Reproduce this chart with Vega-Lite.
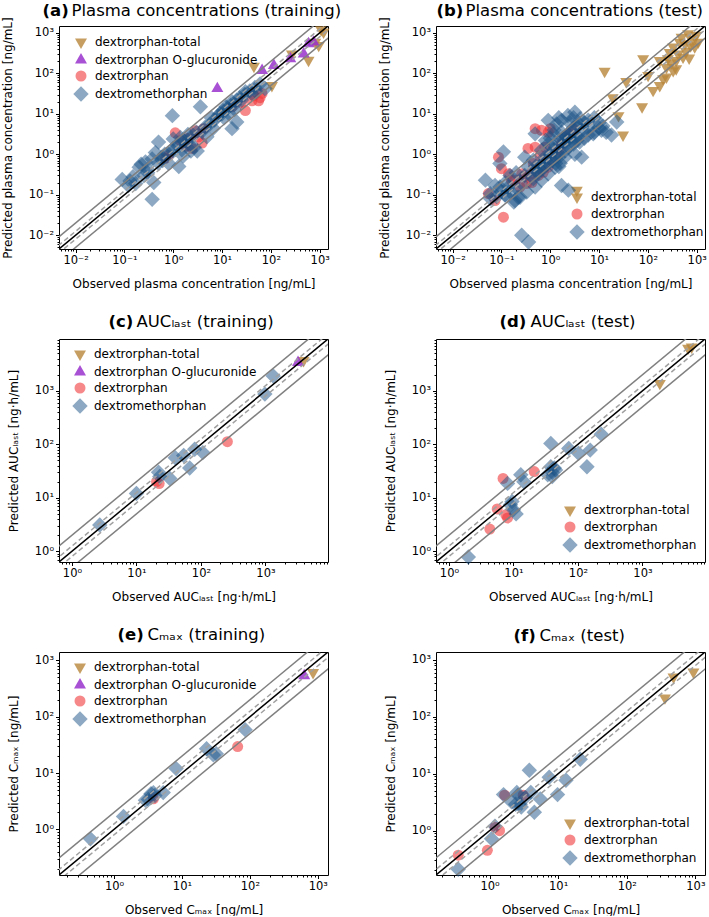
{
  "$schema": "https://vega.github.io/schema/vega-lite/v6.json",
  "padding": {"left": 0, "top": 2, "right": 0, "bottom": 0},
  "config": {
    "font": "DejaVu Sans",
    "view": {"stroke": "black", "strokeWidth": 1},
    "axis": {"labelFontSize": 11.5, "labelColor": "black", "titleFontSize": 12, "titleFontWeight": "normal", "titleColor": "black", "tickColor": "black", "grid": false, "domain": false, "labelOverlap": false, "labelFlush": false, "labelPadding": 2},
    "axisX": {"titlePadding": 12},
    "axisY": {"titlePadding": 14},
    "legend": {"labelFontSize": 12, "labelColor": "black", "labelFont": "DejaVu Sans", "rowPadding": 4, "labelOffset": 8, "symbolStrokeWidth": 0, "padding": 0, "labelLimit": 400, "symbolSize": 121}
  },
  "datasets": {
    "ref": [
      {"ref": "id", "x": 0.0001, "y": 0.0001}, {"ref": "id", "x": 100000, "y": 100000},
      {"ref": "up2", "x": 0.0001, "y": 0.0002}, {"ref": "up2", "x": 100000, "y": 200000},
      {"ref": "lo2", "x": 0.0001, "y": 0.00005}, {"ref": "lo2", "x": 100000, "y": 50000},
      {"ref": "up125", "x": 0.0001, "y": 0.000125}, {"ref": "up125", "x": 100000, "y": 125000},
      {"ref": "lo125", "x": 0.0001, "y": 0.00008}, {"ref": "lo125", "x": 100000, "y": 80000}
    ],
    "a": [
      {"obs": 1070, "pred": 1200, "analyte": "dextrorphan-total"},
      {"obs": 1200, "pred": 1050, "analyte": "dextrorphan-total"},
      {"obs": 810, "pred": 590, "analyte": "dextrorphan-total"},
      {"obs": 955, "pred": 490, "analyte": "dextrorphan-total"},
      {"obs": 590, "pred": 210, "analyte": "dextrorphan-total"},
      {"obs": 270, "pred": 300, "analyte": "dextrorphan-total"},
      {"obs": 45, "pred": 150, "analyte": "dextrorphan-total"},
      {"obs": 105, "pred": 50, "analyte": "dextrorphan-total"},
      {"obs": 8, "pred": 42, "analyte": "dextrorphan O-glucuronide"},
      {"obs": 66, "pred": 118, "analyte": "dextrorphan O-glucuronide"},
      {"obs": 115, "pred": 157, "analyte": "dextrorphan O-glucuronide"},
      {"obs": 250, "pred": 230, "analyte": "dextrorphan O-glucuronide"},
      {"obs": 470, "pred": 300, "analyte": "dextrorphan O-glucuronide"},
      {"obs": 590, "pred": 540, "analyte": "dextrorphan O-glucuronide"},
      {"obs": 750, "pred": 590, "analyte": "dextrorphan O-glucuronide"},
      {"obs": 1.1, "pred": 3.4, "analyte": "dextrorphan"},
      {"obs": 2.45, "pred": 1.4, "analyte": "dextrorphan"},
      {"obs": 3.3, "pred": 2.7, "analyte": "dextrorphan"},
      {"obs": 4.2, "pred": 4.3, "analyte": "dextrorphan"},
      {"obs": 0.8, "pred": 0.93, "analyte": "dextrorphan"},
      {"obs": 0.7, "pred": 0.8, "analyte": "dextrorphan"},
      {"obs": 1.4, "pred": 2.2, "analyte": "dextrorphan"},
      {"obs": 2.0, "pred": 2.5, "analyte": "dextrorphan"},
      {"obs": 3.9, "pred": 1.9, "analyte": "dextrorphan"},
      {"obs": 30, "pred": 12, "analyte": "dextrorphan"},
      {"obs": 41, "pred": 21, "analyte": "dextrorphan"},
      {"obs": 66, "pred": 32, "analyte": "dextrorphan"},
      {"obs": 56, "pred": 21, "analyte": "dextrorphan"},
      {"obs": 16, "pred": 15, "analyte": "dextrorphan"},
      {"obs": 25, "pred": 19, "analyte": "dextrorphan"},
      {"obs": 45, "pred": 28, "analyte": "dextrorphan"},
      {"obs": 60, "pred": 25, "analyte": "dextrorphan"},
      {"obs": 2.8, "pred": 3.8, "analyte": "dextrorphan"},
      {"obs": 1.8, "pred": 1.6, "analyte": "dextrorphan"},
      {"obs": 0.09, "pred": 0.24, "analyte": "dextromethorphan"},
      {"obs": 0.13, "pred": 0.22, "analyte": "dextromethorphan"},
      {"obs": 0.17, "pred": 0.19, "analyte": "dextromethorphan"},
      {"obs": 0.2, "pred": 0.48, "analyte": "dextromethorphan"},
      {"obs": 0.22, "pred": 0.57, "analyte": "dextromethorphan"},
      {"obs": 0.27, "pred": 0.65, "analyte": "dextromethorphan"},
      {"obs": 0.37, "pred": 0.77, "analyte": "dextromethorphan"},
      {"obs": 0.3, "pred": 0.42, "analyte": "dextromethorphan"},
      {"obs": 0.4, "pred": 0.2, "analyte": "dextromethorphan"},
      {"obs": 0.37, "pred": 0.077, "analyte": "dextromethorphan"},
      {"obs": 0.5, "pred": 2.0, "analyte": "dextromethorphan"},
      {"obs": 0.43, "pred": 1.1, "analyte": "dextromethorphan"},
      {"obs": 0.59, "pred": 0.85, "analyte": "dextromethorphan"},
      {"obs": 0.67, "pred": 1.0, "analyte": "dextromethorphan"},
      {"obs": 0.96, "pred": 9.0, "analyte": "dextromethorphan"},
      {"obs": 1.3, "pred": 0.5, "analyte": "dextromethorphan"},
      {"obs": 1.0, "pred": 1.4, "analyte": "dextromethorphan"},
      {"obs": 1.2, "pred": 1.7, "analyte": "dextromethorphan"},
      {"obs": 1.5, "pred": 1.3, "analyte": "dextromethorphan"},
      {"obs": 1.7, "pred": 2.1, "analyte": "dextromethorphan"},
      {"obs": 2.1, "pred": 1.8, "analyte": "dextromethorphan"},
      {"obs": 2.7, "pred": 1.5, "analyte": "dextromethorphan"},
      {"obs": 3.1, "pred": 1.2, "analyte": "dextromethorphan"},
      {"obs": 3.6, "pred": 15, "analyte": "dextromethorphan"},
      {"obs": 3.9, "pred": 3.7, "analyte": "dextromethorphan"},
      {"obs": 4.5, "pred": 4.7, "analyte": "dextromethorphan"},
      {"obs": 5.7, "pred": 5.7, "analyte": "dextromethorphan"},
      {"obs": 7, "pred": 7, "analyte": "dextromethorphan"},
      {"obs": 8.3, "pred": 9, "analyte": "dextromethorphan"},
      {"obs": 10.5, "pred": 12, "analyte": "dextromethorphan"},
      {"obs": 13, "pred": 14, "analyte": "dextromethorphan"},
      {"obs": 16, "pred": 20, "analyte": "dextromethorphan"},
      {"obs": 16, "pred": 4.3, "analyte": "dextromethorphan"},
      {"obs": 20, "pred": 6.3, "analyte": "dextromethorphan"},
      {"obs": 18, "pred": 17, "analyte": "dextromethorphan"},
      {"obs": 23, "pred": 25, "analyte": "dextromethorphan"},
      {"obs": 29, "pred": 30, "analyte": "dextromethorphan"},
      {"obs": 37, "pred": 37, "analyte": "dextromethorphan"},
      {"obs": 47, "pred": 45, "analyte": "dextromethorphan"},
      {"obs": 60, "pred": 55, "analyte": "dextromethorphan"},
      {"obs": 76, "pred": 42, "analyte": "dextromethorphan"},
      {"obs": 11, "pred": 8, "analyte": "dextromethorphan"},
      {"obs": 9, "pred": 10, "analyte": "dextromethorphan"},
      {"obs": 6.6, "pred": 4.4, "analyte": "dextromethorphan"},
      {"obs": 4.9, "pred": 2.7, "analyte": "dextromethorphan"},
      {"obs": 2.0, "pred": 3.1, "analyte": "dextromethorphan"},
      {"obs": 1.4, "pred": 2.6, "analyte": "dextromethorphan"},
      {"obs": 1.0, "pred": 2.4, "analyte": "dextromethorphan"},
      {"obs": 0.25, "pred": 0.3, "analyte": "dextromethorphan"},
      {"obs": 0.3, "pred": 0.35, "analyte": "dextromethorphan"},
      {"obs": 0.5, "pred": 0.6, "analyte": "dextromethorphan"},
      {"obs": 0.6, "pred": 0.7, "analyte": "dextromethorphan"},
      {"obs": 0.8, "pred": 1.0, "analyte": "dextromethorphan"},
      {"obs": 1.0, "pred": 1.2, "analyte": "dextromethorphan"},
      {"obs": 1.5, "pred": 2.0, "analyte": "dextromethorphan"},
      {"obs": 2.0, "pred": 2.2, "analyte": "dextromethorphan"},
      {"obs": 2.5, "pred": 3.0, "analyte": "dextromethorphan"},
      {"obs": 3.0, "pred": 3.5, "analyte": "dextromethorphan"},
      {"obs": 10, "pred": 10, "analyte": "dextromethorphan"},
      {"obs": 12, "pred": 15, "analyte": "dextromethorphan"},
      {"obs": 15, "pred": 16, "analyte": "dextromethorphan"},
      {"obs": 20, "pred": 22, "analyte": "dextromethorphan"},
      {"obs": 25, "pred": 22, "analyte": "dextromethorphan"},
      {"obs": 30, "pred": 35, "analyte": "dextromethorphan"},
      {"obs": 0.12, "pred": 0.17, "analyte": "dextromethorphan"},
      {"obs": 0.15, "pred": 0.28, "analyte": "dextromethorphan"},
      {"obs": 0.8, "pred": 0.6, "analyte": "dextromethorphan"},
      {"obs": 1.6, "pred": 0.9, "analyte": "dextromethorphan"},
      {"obs": 2.3, "pred": 1.2, "analyte": "dextromethorphan"},
      {"obs": 6, "pred": 8, "analyte": "dextromethorphan"},
      {"obs": 14, "pred": 10, "analyte": "dextromethorphan"},
      {"obs": 18, "pred": 13, "analyte": "dextromethorphan"},
      {"obs": 50, "pred": 35, "analyte": "dextromethorphan"},
      {"obs": 40, "pred": 32, "analyte": "dextromethorphan"}
    ],
    "b": [
      {"obs": 13, "pred": 113, "analyte": "dextrorphan-total"},
      {"obs": 80, "pred": 230, "analyte": "dextrorphan-total"},
      {"obs": 36, "pred": 63, "analyte": "dextrorphan-total"},
      {"obs": 19, "pred": 25, "analyte": "dextrorphan-total"},
      {"obs": 31, "pred": 3.0, "analyte": "dextrorphan-total"},
      {"obs": 76, "pred": 15, "analyte": "dextrorphan-total"},
      {"obs": 25, "pred": 9, "analyte": "dextrorphan-total"},
      {"obs": 128, "pred": 38, "analyte": "dextrorphan-total"},
      {"obs": 240, "pred": 81, "analyte": "dextrorphan-total"},
      {"obs": 101, "pred": 89, "analyte": "dextrorphan-total"},
      {"obs": 175, "pred": 208, "analyte": "dextrorphan-total"},
      {"obs": 257, "pred": 229, "analyte": "dextrorphan-total"},
      {"obs": 380, "pred": 208, "analyte": "dextrorphan-total"},
      {"obs": 415, "pred": 302, "analyte": "dextrorphan-total"},
      {"obs": 525, "pred": 251, "analyte": "dextrorphan-total"},
      {"obs": 330, "pred": 446, "analyte": "dextrorphan-total"},
      {"obs": 575, "pred": 537, "analyte": "dextrorphan-total"},
      {"obs": 665, "pred": 955, "analyte": "dextrorphan-total"},
      {"obs": 980, "pred": 870, "analyte": "dextrorphan-total"},
      {"obs": 1070, "pred": 590, "analyte": "dextrorphan-total"},
      {"obs": 850, "pred": 710, "analyte": "dextrorphan-total"},
      {"obs": 450, "pred": 590, "analyte": "dextrorphan-total"},
      {"obs": 910, "pred": 450, "analyte": "dextrorphan-total"},
      {"obs": 240, "pred": 140, "analyte": "dextrorphan-total"},
      {"obs": 330, "pred": 117, "analyte": "dextrorphan-total"},
      {"obs": 205, "pred": 74, "analyte": "dextrorphan-total"},
      {"obs": 175, "pred": 50, "analyte": "dextrorphan-total"},
      {"obs": 280, "pred": 330, "analyte": "dextrorphan-total"},
      {"obs": 490, "pred": 780, "analyte": "dextrorphan-total"},
      {"obs": 3.5, "pred": 0.13, "analyte": "dextrorphan-total"},
      {"obs": 600, "pred": 350, "analyte": "dextrorphan-total"},
      {"obs": 750, "pred": 480, "analyte": "dextrorphan-total"},
      {"obs": 700, "pred": 240, "analyte": "dextrorphan-total"},
      {"obs": 380, "pred": 130, "analyte": "dextrorphan-total"},
      {"obs": 300, "pred": 180, "analyte": "dextrorphan-total"},
      {"obs": 0.66, "pred": 3.9, "analyte": "dextrorphan"},
      {"obs": 1.0, "pred": 4.3, "analyte": "dextrorphan"},
      {"obs": 0.35, "pred": 1.4, "analyte": "dextrorphan"},
      {"obs": 0.49, "pred": 1.5, "analyte": "dextrorphan"},
      {"obs": 0.10, "pred": 0.44, "analyte": "dextrorphan"},
      {"obs": 0.054, "pred": 0.107, "analyte": "dextrorphan"},
      {"obs": 0.074, "pred": 0.072, "analyte": "dextrorphan"},
      {"obs": 0.11, "pred": 0.028, "analyte": "dextrorphan"},
      {"obs": 0.19, "pred": 0.23, "analyte": "dextrorphan"},
      {"obs": 0.26, "pred": 0.33, "analyte": "dextrorphan"},
      {"obs": 0.33, "pred": 0.19, "analyte": "dextrorphan"},
      {"obs": 0.42, "pred": 0.2, "analyte": "dextrorphan"},
      {"obs": 0.57, "pred": 0.3, "analyte": "dextrorphan"},
      {"obs": 0.91, "pred": 0.48, "analyte": "dextrorphan"},
      {"obs": 1.07, "pred": 0.7, "analyte": "dextrorphan"},
      {"obs": 1.35, "pred": 1.15, "analyte": "dextrorphan"},
      {"obs": 2.0, "pred": 2.7, "analyte": "dextrorphan"},
      {"obs": 2.5, "pred": 3.2, "analyte": "dextrorphan"},
      {"obs": 2.95, "pred": 4.3, "analyte": "dextrorphan"},
      {"obs": 1.7, "pred": 1.8, "analyte": "dextrorphan"},
      {"obs": 0.78, "pred": 1.5, "analyte": "dextrorphan"},
      {"obs": 0.62, "pred": 0.93, "analyte": "dextrorphan"},
      {"obs": 0.39, "pred": 0.33, "analyte": "dextrorphan"},
      {"obs": 0.45, "pred": 0.59, "analyte": "dextrorphan"},
      {"obs": 0.24, "pred": 0.155, "analyte": "dextrorphan"},
      {"obs": 0.16, "pred": 0.23, "analyte": "dextrorphan"},
      {"obs": 0.14, "pred": 0.33, "analyte": "dextrorphan"},
      {"obs": 0.087, "pred": 0.85, "analyte": "dextrorphan"},
      {"obs": 0.49, "pred": 4.3, "analyte": "dextrorphan"},
      {"obs": 0.91, "pred": 3.5, "analyte": "dextrorphan"},
      {"obs": 0.3, "pred": 0.28, "analyte": "dextrorphan"},
      {"obs": 0.72, "pred": 0.36, "analyte": "dextrorphan"},
      {"obs": 1.5, "pred": 1.3, "analyte": "dextrorphan"},
      {"obs": 0.093, "pred": 0.59, "analyte": "dextromethorphan"},
      {"obs": 0.11, "pred": 1.15, "analyte": "dextromethorphan"},
      {"obs": 0.047, "pred": 0.23, "analyte": "dextromethorphan"},
      {"obs": 0.059, "pred": 0.107, "analyte": "dextromethorphan"},
      {"obs": 0.14, "pred": 0.155, "analyte": "dextromethorphan"},
      {"obs": 0.19, "pred": 0.072, "analyte": "dextromethorphan"},
      {"obs": 0.22, "pred": 0.087, "analyte": "dextromethorphan"},
      {"obs": 0.26, "pred": 0.01, "analyte": "dextromethorphan"},
      {"obs": 0.36, "pred": 0.0068, "analyte": "dextromethorphan"},
      {"obs": 0.30, "pred": 0.85, "analyte": "dextromethorphan"},
      {"obs": 0.45, "pred": 0.71, "analyte": "dextromethorphan"},
      {"obs": 0.52, "pred": 0.4, "analyte": "dextromethorphan"},
      {"obs": 0.78, "pred": 0.85, "analyte": "dextromethorphan"},
      {"obs": 0.91, "pred": 1.8, "analyte": "dextromethorphan"},
      {"obs": 1.15, "pred": 3.2, "analyte": "dextromethorphan"},
      {"obs": 1.35, "pred": 5.6, "analyte": "dextromethorphan"},
      {"obs": 1.7, "pred": 3.5, "analyte": "dextromethorphan"},
      {"obs": 1.86, "pred": 1.5, "analyte": "dextromethorphan"},
      {"obs": 2.3, "pred": 9.1, "analyte": "dextromethorphan"},
      {"obs": 3.2, "pred": 11, "analyte": "dextromethorphan"},
      {"obs": 4.1, "pred": 7.6, "analyte": "dextromethorphan"},
      {"obs": 4.4, "pred": 3.9, "analyte": "dextromethorphan"},
      {"obs": 6.0, "pred": 4.7, "analyte": "dextromethorphan"},
      {"obs": 7.6, "pred": 3.2, "analyte": "dextromethorphan"},
      {"obs": 11.2, "pred": 3.9, "analyte": "dextromethorphan"},
      {"obs": 14, "pred": 3.5, "analyte": "dextromethorphan"},
      {"obs": 18, "pred": 3.0, "analyte": "dextromethorphan"},
      {"obs": 23, "pred": 6.3, "analyte": "dextromethorphan"},
      {"obs": 4.4, "pred": 0.85, "analyte": "dextromethorphan"},
      {"obs": 3.2, "pred": 1.0, "analyte": "dextromethorphan"},
      {"obs": 2.35, "pred": 0.13, "analyte": "dextromethorphan"},
      {"obs": 1.7, "pred": 0.17, "analyte": "dextromethorphan"},
      {"obs": 1.26, "pred": 0.48, "analyte": "dextromethorphan"},
      {"obs": 0.91, "pred": 0.33, "analyte": "dextromethorphan"},
      {"obs": 0.66, "pred": 0.23, "analyte": "dextromethorphan"},
      {"obs": 0.49, "pred": 0.155, "analyte": "dextromethorphan"},
      {"obs": 0.33, "pred": 0.117, "analyte": "dextromethorphan"},
      {"obs": 0.24, "pred": 0.087, "analyte": "dextromethorphan"},
      {"obs": 0.18, "pred": 0.066, "analyte": "dextromethorphan"},
      {"obs": 0.118, "pred": 0.098, "analyte": "dextromethorphan"},
      {"obs": 0.093, "pred": 0.155, "analyte": "dextromethorphan"},
      {"obs": 0.074, "pred": 0.17, "analyte": "dextromethorphan"},
      {"obs": 0.91, "pred": 6.9, "analyte": "dextromethorphan"},
      {"obs": 1.7, "pred": 6.9, "analyte": "dextromethorphan"},
      {"obs": 2.3, "pred": 3.2, "analyte": "dextromethorphan"},
      {"obs": 1.26, "pred": 1.5, "analyte": "dextromethorphan"},
      {"obs": 0.66, "pred": 1.26, "analyte": "dextromethorphan"},
      {"obs": 1.7, "pred": 2.2, "analyte": "dextromethorphan"},
      {"obs": 2.75, "pred": 2.2, "analyte": "dextromethorphan"},
      {"obs": 3.7, "pred": 2.7, "analyte": "dextromethorphan"},
      {"obs": 1.5, "pred": 0.85, "analyte": "dextromethorphan"},
      {"obs": 1.3, "pred": 0.85, "analyte": "dextromethorphan"},
      {"obs": 2.0, "pred": 0.85, "analyte": "dextromethorphan"},
      {"obs": 1.6, "pred": 0.6, "analyte": "dextromethorphan"},
      {"obs": 0.49, "pred": 3.2, "analyte": "dextromethorphan"},
      {"obs": 0.5, "pred": 0.5, "analyte": "dextromethorphan"},
      {"obs": 0.6, "pred": 0.45, "analyte": "dextromethorphan"},
      {"obs": 0.7, "pred": 0.6, "analyte": "dextromethorphan"},
      {"obs": 0.8, "pred": 0.7, "analyte": "dextromethorphan"},
      {"obs": 1.0, "pred": 1.0, "analyte": "dextromethorphan"},
      {"obs": 1.2, "pred": 1.3, "analyte": "dextromethorphan"},
      {"obs": 1.4, "pred": 1.1, "analyte": "dextromethorphan"},
      {"obs": 1.6, "pred": 1.8, "analyte": "dextromethorphan"},
      {"obs": 1.8, "pred": 2.5, "analyte": "dextromethorphan"},
      {"obs": 2.0, "pred": 2.0, "analyte": "dextromethorphan"},
      {"obs": 2.2, "pred": 2.8, "analyte": "dextromethorphan"},
      {"obs": 2.5, "pred": 2.5, "analyte": "dextromethorphan"},
      {"obs": 2.8, "pred": 3.5, "analyte": "dextromethorphan"},
      {"obs": 3.0, "pred": 4.5, "analyte": "dextromethorphan"},
      {"obs": 3.5, "pred": 5.0, "analyte": "dextromethorphan"},
      {"obs": 4.0, "pred": 5.5, "analyte": "dextromethorphan"},
      {"obs": 5.0, "pred": 6.0, "analyte": "dextromethorphan"},
      {"obs": 6.0, "pred": 7.0, "analyte": "dextromethorphan"},
      {"obs": 8.0, "pred": 8.0, "analyte": "dextromethorphan"},
      {"obs": 10.0, "pred": 6.0, "analyte": "dextromethorphan"},
      {"obs": 12, "pred": 5, "analyte": "dextromethorphan"},
      {"obs": 0.3, "pred": 0.3, "analyte": "dextromethorphan"},
      {"obs": 0.25, "pred": 0.2, "analyte": "dextromethorphan"},
      {"obs": 0.2, "pred": 0.15, "analyte": "dextromethorphan"},
      {"obs": 0.15, "pred": 0.12, "analyte": "dextromethorphan"},
      {"obs": 0.12, "pred": 0.1, "analyte": "dextromethorphan"},
      {"obs": 0.1, "pred": 0.12, "analyte": "dextromethorphan"},
      {"obs": 0.08, "pred": 0.09, "analyte": "dextromethorphan"},
      {"obs": 0.06, "pred": 0.08, "analyte": "dextromethorphan"},
      {"obs": 0.35, "pred": 0.5, "analyte": "dextromethorphan"},
      {"obs": 0.4, "pred": 0.3, "analyte": "dextromethorphan"},
      {"obs": 0.45, "pred": 0.25, "analyte": "dextromethorphan"},
      {"obs": 0.55, "pred": 0.35, "analyte": "dextromethorphan"},
      {"obs": 0.65, "pred": 0.4, "analyte": "dextromethorphan"},
      {"obs": 0.75, "pred": 0.5, "analyte": "dextromethorphan"},
      {"obs": 0.9, "pred": 0.6, "analyte": "dextromethorphan"},
      {"obs": 1.1, "pred": 0.7, "analyte": "dextromethorphan"},
      {"obs": 1.3, "pred": 0.6, "analyte": "dextromethorphan"},
      {"obs": 1.5, "pred": 0.5, "analyte": "dextromethorphan"},
      {"obs": 2.0, "pred": 1.2, "analyte": "dextromethorphan"},
      {"obs": 2.4, "pred": 1.5, "analyte": "dextromethorphan"},
      {"obs": 3.0, "pred": 1.8, "analyte": "dextromethorphan"},
      {"obs": 3.5, "pred": 2.2, "analyte": "dextromethorphan"},
      {"obs": 4.0, "pred": 2.0, "analyte": "dextromethorphan"},
      {"obs": 5.0, "pred": 2.5, "analyte": "dextromethorphan"},
      {"obs": 6.0, "pred": 3.0, "analyte": "dextromethorphan"},
      {"obs": 8.0, "pred": 3.5, "analyte": "dextromethorphan"},
      {"obs": 10, "pred": 4.5, "analyte": "dextromethorphan"},
      {"obs": 1.0, "pred": 2.5, "analyte": "dextromethorphan"},
      {"obs": 1.2, "pred": 4.0, "analyte": "dextromethorphan"},
      {"obs": 0.8, "pred": 2.2, "analyte": "dextromethorphan"},
      {"obs": 1.5, "pred": 8.0, "analyte": "dextromethorphan"},
      {"obs": 2.5, "pred": 6.0, "analyte": "dextromethorphan"},
      {"obs": 3, "pred": 8, "analyte": "dextromethorphan"},
      {"obs": 0.15, "pred": 0.3, "analyte": "dextromethorphan"},
      {"obs": 0.2, "pred": 0.35, "analyte": "dextromethorphan"},
      {"obs": 0.12, "pred": 0.2, "analyte": "dextromethorphan"}
    ],
    "c": [
      {"obs": 3900, "pred": 3700, "analyte": "dextrorphan-total"},
      {"obs": 3200, "pred": 3400, "analyte": "dextrorphan O-glucuronide"},
      {"obs": 257, "pred": 112, "analyte": "dextrorphan"},
      {"obs": 20.5, "pred": 20, "analyte": "dextrorphan"},
      {"obs": 22.5, "pred": 18.5, "analyte": "dextrorphan"},
      {"obs": 2.7, "pred": 3.1, "analyte": "dextromethorphan"},
      {"obs": 10, "pred": 12, "analyte": "dextromethorphan"},
      {"obs": 22, "pred": 30, "analyte": "dextromethorphan"},
      {"obs": 23, "pred": 25, "analyte": "dextromethorphan"},
      {"obs": 33, "pred": 23, "analyte": "dextromethorphan"},
      {"obs": 40, "pred": 56, "analyte": "dextromethorphan"},
      {"obs": 54, "pred": 62, "analyte": "dextromethorphan"},
      {"obs": 67, "pred": 36, "analyte": "dextromethorphan"},
      {"obs": 80, "pred": 81, "analyte": "dextromethorphan"},
      {"obs": 107, "pred": 70, "analyte": "dextromethorphan"},
      {"obs": 980, "pred": 870, "analyte": "dextromethorphan"},
      {"obs": 1320, "pred": 1900, "analyte": "dextromethorphan"}
    ],
    "d": [
      {"obs": 5100, "pred": 6300, "analyte": "dextrorphan-total"},
      {"obs": 5800, "pred": 6600, "analyte": "dextrorphan-total"},
      {"obs": 1860, "pred": 1380, "analyte": "dextrorphan-total"},
      {"obs": 6.9, "pred": 23, "analyte": "dextrorphan"},
      {"obs": 21, "pred": 31, "analyte": "dextrorphan"},
      {"obs": 4.3, "pred": 2.6, "analyte": "dextrorphan"},
      {"obs": 5.6, "pred": 6.2, "analyte": "dextrorphan"},
      {"obs": 7.6, "pred": 4.8, "analyte": "dextrorphan"},
      {"obs": 8.1, "pred": 4.2, "analyte": "dextrorphan"},
      {"obs": 2.0, "pred": 0.78, "analyte": "dextromethorphan"},
      {"obs": 8.1, "pred": 18.6, "analyte": "dextromethorphan"},
      {"obs": 13, "pred": 27, "analyte": "dextromethorphan"},
      {"obs": 14.5, "pred": 20, "analyte": "dextromethorphan"},
      {"obs": 9, "pred": 7.4, "analyte": "dextromethorphan"},
      {"obs": 11, "pred": 5.0, "analyte": "dextromethorphan"},
      {"obs": 38, "pred": 104, "analyte": "dextromethorphan"},
      {"obs": 34, "pred": 27, "analyte": "dextromethorphan"},
      {"obs": 43, "pred": 36, "analyte": "dextromethorphan"},
      {"obs": 40, "pred": 30, "analyte": "dextromethorphan"},
      {"obs": 45, "pred": 33, "analyte": "dextromethorphan"},
      {"obs": 38, "pred": 38, "analyte": "dextromethorphan"},
      {"obs": 72, "pred": 84, "analyte": "dextromethorphan"},
      {"obs": 102, "pred": 68, "analyte": "dextromethorphan"},
      {"obs": 155, "pred": 78, "analyte": "dextromethorphan"},
      {"obs": 138, "pred": 38, "analyte": "dextromethorphan"},
      {"obs": 230, "pred": 155, "analyte": "dextromethorphan"},
      {"obs": 10, "pred": 6, "analyte": "dextromethorphan"},
      {"obs": 9.5, "pred": 8.5, "analyte": "dextromethorphan"},
      {"obs": 40, "pred": 25, "analyte": "dextromethorphan"}
    ],
    "e": [
      {"obs": 850, "pred": 610, "analyte": "dextrorphan-total"},
      {"obs": 630, "pred": 535, "analyte": "dextrorphan O-glucuronide"},
      {"obs": 66, "pred": 29.5, "analyte": "dextrorphan"},
      {"obs": 3.8, "pred": 3.5, "analyte": "dextrorphan"},
      {"obs": 0.45, "pred": 0.68, "analyte": "dextromethorphan"},
      {"obs": 1.38, "pred": 1.7, "analyte": "dextromethorphan"},
      {"obs": 2.9, "pred": 3.3, "analyte": "dextromethorphan"},
      {"obs": 3.5, "pred": 4.3, "analyte": "dextromethorphan"},
      {"obs": 3.8, "pred": 4.5, "analyte": "dextromethorphan"},
      {"obs": 5.3, "pred": 4.5, "analyte": "dextromethorphan"},
      {"obs": 8.2, "pred": 12, "analyte": "dextromethorphan"},
      {"obs": 23, "pred": 27, "analyte": "dextromethorphan"},
      {"obs": 29, "pred": 21, "analyte": "dextromethorphan"},
      {"obs": 32, "pred": 22, "analyte": "dextromethorphan"},
      {"obs": 85, "pred": 59, "analyte": "dextromethorphan"},
      {"obs": 3.2, "pred": 3.4, "analyte": "dextromethorphan"},
      {"obs": 4.0, "pred": 4.0, "analyte": "dextromethorphan"}
    ],
    "f": [
      {"obs": 480, "pred": 500, "analyte": "dextrorphan-total"},
      {"obs": 935, "pred": 615, "analyte": "dextrorphan-total"},
      {"obs": 360, "pred": 215, "analyte": "dextrorphan-total"},
      {"obs": 0.35, "pred": 0.37, "analyte": "dextrorphan"},
      {"obs": 0.93, "pred": 0.45, "analyte": "dextrorphan"},
      {"obs": 1.2, "pred": 1.15, "analyte": "dextrorphan"},
      {"obs": 1.4, "pred": 1.0, "analyte": "dextrorphan"},
      {"obs": 1.66, "pred": 4.2, "analyte": "dextrorphan"},
      {"obs": 3.1, "pred": 4.2, "analyte": "dextrorphan"},
      {"obs": 0.35, "pred": 0.21, "analyte": "dextromethorphan"},
      {"obs": 1.07, "pred": 0.72, "analyte": "dextromethorphan"},
      {"obs": 1.2, "pred": 1.2, "analyte": "dextromethorphan"},
      {"obs": 1.6, "pred": 4.3, "analyte": "dextromethorphan"},
      {"obs": 2.1, "pred": 3.2, "analyte": "dextromethorphan"},
      {"obs": 2.5, "pred": 4.7, "analyte": "dextromethorphan"},
      {"obs": 2.8, "pred": 2.9, "analyte": "dextromethorphan"},
      {"obs": 2.9, "pred": 2.6, "analyte": "dextromethorphan"},
      {"obs": 3.8, "pred": 11.5, "analyte": "dextromethorphan"},
      {"obs": 4.0, "pred": 4.7, "analyte": "dextromethorphan"},
      {"obs": 4.5, "pred": 2.1, "analyte": "dextromethorphan"},
      {"obs": 5.5, "pred": 3.6, "analyte": "dextromethorphan"},
      {"obs": 7.4, "pred": 8.7, "analyte": "dextromethorphan"},
      {"obs": 9.8, "pred": 4.3, "analyte": "dextromethorphan"},
      {"obs": 13, "pred": 7.7, "analyte": "dextromethorphan"},
      {"obs": 21, "pred": 18, "analyte": "dextromethorphan"},
      {"obs": 2.6, "pred": 4.2, "analyte": "dextromethorphan"},
      {"obs": 3.3, "pred": 3.8, "analyte": "dextromethorphan"},
      {"obs": 2.4, "pred": 2.9, "analyte": "dextromethorphan"}
    ]
  },
  "columns": 2,
  "bounds": "flush",
  "spacing": {"row": 90, "column": 108},
  "resolve": {"scale": {"color": "independent", "shape": "independent"}, "legend": {"color": "independent", "shape": "independent"}},
  "concat": [
    {
      "width": 269, "height": 223,
      "resolve": {"axis": {"x": "independent", "y": "independent"}},
      "layer": [
        {
          "data": {"name": "a"},
          "mark": {"type": "point", "filled": true, "strokeWidth": 0, "size": 121, "opacity": 1},
          "encoding": {
            "x": {"field": "obs", "type": "quantitative", "scale": {"type": "log", "domain": [0.00457, 1479], "nice": false},
              "axis": {"orient": "bottom", "title": "Observed plasma concentration [ng/mL]", "values": [0.005,0.006,0.007,0.008,0.009,0.01,0.02,0.03,0.04,0.05,0.06,0.07,0.08,0.09,0.1,0.2,0.3,0.4,0.5,0.6,0.7,0.8,0.9,1,2,3,4,5,6,7,8,9,10,20,30,40,50,60,70,80,90,100,200,300,400,500,600,700,800,900,1000], "labelExpr": "abs(log(datum.value)/LN10-round(log(datum.value)/LN10))>0.01 ? '' : '10'+(round(log(datum.value)/LN10)<0 ? '⁻' : '')+['⁰','¹','²','³','⁴'][abs(round(log(datum.value)/LN10))]", "tickSize": {"condition": {"test": "abs(log(datum.value)/LN10-round(log(datum.value)/LN10))>0.01", "value": 2}, "value": 3.5}}},
            "y": {"field": "pred", "type": "quantitative", "scale": {"type": "log", "domain": [0.00457, 1479], "nice": false},
              "axis": {"orient": "left", "title": "Predicted plasma concentration [ng/mL]", "values": [0.005,0.006,0.007,0.008,0.009,0.01,0.02,0.03,0.04,0.05,0.06,0.07,0.08,0.09,0.1,0.2,0.3,0.4,0.5,0.6,0.7,0.8,0.9,1,2,3,4,5,6,7,8,9,10,20,30,40,50,60,70,80,90,100,200,300,400,500,600,700,800,900,1000], "labelExpr": "abs(log(datum.value)/LN10-round(log(datum.value)/LN10))>0.01 ? '' : '10'+(round(log(datum.value)/LN10)<0 ? '⁻' : '')+['⁰','¹','²','³','⁴'][abs(round(log(datum.value)/LN10))]", "tickSize": {"condition": {"test": "abs(log(datum.value)/LN10-round(log(datum.value)/LN10))>0.01", "value": 2}, "value": 3.5}}},
            "color": {"field": "analyte", "type": "nominal", "scale": {"domain": ["dextrorphan-total", "dextrorphan O-glucuronide", "dextrorphan", "dextromethorphan"], "range": ["rgba(184,134,59,0.8)", "rgba(153,50,204,0.85)", "rgba(240,56,60,0.6)", "rgba(26,82,133,0.5)"]}, "legend": {"title": null, "orient": "none", "legendX": 16, "legendY": 10}},
            "shape": {"field": "analyte", "type": "nominal", "scale": {"domain": ["dextrorphan-total", "dextrorphan O-glucuronide", "dextrorphan", "dextromethorphan"], "range": ["M-1.09,-0.63L1.09,-0.63L0,1.26Z", "M-1.09,0.63L1.09,0.63L0,-1.26Z", "circle", "M-1.4,0L0,-1.4L1.4,0L0,1.4Z"]}, "legend": {"title": null, "orient": "none", "legendX": 16, "legendY": 10}}
          }
        },
        {
          "data": {"name": "ref"},
          "transform": [{"filter": "datum.ref === 'up2' || datum.ref === 'lo2'"}],
          "mark": {"type": "line", "color": "#808080", "strokeWidth": 1.5, "clip": true},
          "encoding": {
            "x": {"field": "x", "type": "quantitative", "scale": {"type": "log", "domain": [0.00457, 1479], "nice": false}, "axis": null},
            "y": {"field": "y", "type": "quantitative", "scale": {"type": "log", "domain": [0.00457, 1479], "nice": false}, "axis": null},
            "detail": {"field": "ref"}
          }
        },
        {
          "data": {"name": "ref"},
          "transform": [{"filter": "datum.ref === 'up125' || datum.ref === 'lo125'"}],
          "mark": {"type": "line", "color": "#a0a0a0", "strokeWidth": 1.5, "strokeDash": [5, 3], "clip": true},
          "encoding": {
            "x": {"field": "x", "type": "quantitative", "scale": {"type": "log", "domain": [0.00457, 1479], "nice": false}, "axis": {"orient": "top", "title": "(a)", "titleFontWeight": "bold", "titleFontSize": 16.5, "labels": false, "ticks": false, "domain": false, "titleX": -17, "titleY": -10.5, "titleAlign": "left", "titleBaseline": "alphabetic"}},
            "y": {"field": "y", "type": "quantitative", "scale": {"type": "log", "domain": [0.00457, 1479], "nice": false}, "axis": null},
            "detail": {"field": "ref"}
          }
        },
        {
          "data": {"name": "ref"},
          "transform": [{"filter": "datum.ref === 'id'"}],
          "mark": {"type": "line", "color": "black", "strokeWidth": 1.5, "clip": true},
          "encoding": {
            "x": {"field": "x", "type": "quantitative", "scale": {"type": "log", "domain": [0.00457, 1479], "nice": false}, "axis": {"orient": "top", "title": "Plasma concentrations (training)", "titleFontSize": 16.5, "labels": false, "ticks": false, "domain": false, "titleX": 12, "titleY": -10.5, "titleAlign": "left", "titleBaseline": "alphabetic"}},
            "y": {"field": "y", "type": "quantitative", "scale": {"type": "log", "domain": [0.00457, 1479], "nice": false}, "axis": null}
          }
        }
      ]
    },
    {
      "width": 269, "height": 223,
      "resolve": {"axis": {"x": "independent", "y": "independent"}},
      "layer": [
        {
          "data": {"name": "b"},
          "mark": {"type": "point", "filled": true, "strokeWidth": 0, "size": 121, "opacity": 1},
          "encoding": {
            "x": {"field": "obs", "type": "quantitative", "scale": {"type": "log", "domain": [0.00457, 1479], "nice": false},
              "axis": {"orient": "bottom", "title": "Observed plasma concentration [ng/mL]", "values": [0.005,0.006,0.007,0.008,0.009,0.01,0.02,0.03,0.04,0.05,0.06,0.07,0.08,0.09,0.1,0.2,0.3,0.4,0.5,0.6,0.7,0.8,0.9,1,2,3,4,5,6,7,8,9,10,20,30,40,50,60,70,80,90,100,200,300,400,500,600,700,800,900,1000], "labelExpr": "abs(log(datum.value)/LN10-round(log(datum.value)/LN10))>0.01 ? '' : '10'+(round(log(datum.value)/LN10)<0 ? '⁻' : '')+['⁰','¹','²','³','⁴'][abs(round(log(datum.value)/LN10))]", "tickSize": {"condition": {"test": "abs(log(datum.value)/LN10-round(log(datum.value)/LN10))>0.01", "value": 2}, "value": 3.5}}},
            "y": {"field": "pred", "type": "quantitative", "scale": {"type": "log", "domain": [0.00457, 1479], "nice": false},
              "axis": {"orient": "left", "title": "Predicted plasma concentration [ng/mL]", "values": [0.005,0.006,0.007,0.008,0.009,0.01,0.02,0.03,0.04,0.05,0.06,0.07,0.08,0.09,0.1,0.2,0.3,0.4,0.5,0.6,0.7,0.8,0.9,1,2,3,4,5,6,7,8,9,10,20,30,40,50,60,70,80,90,100,200,300,400,500,600,700,800,900,1000], "labelExpr": "abs(log(datum.value)/LN10-round(log(datum.value)/LN10))>0.01 ? '' : '10'+(round(log(datum.value)/LN10)<0 ? '⁻' : '')+['⁰','¹','²','³','⁴'][abs(round(log(datum.value)/LN10))]", "tickSize": {"condition": {"test": "abs(log(datum.value)/LN10-round(log(datum.value)/LN10))>0.01", "value": 2}, "value": 3.5}}},
            "color": {"field": "analyte", "type": "nominal", "scale": {"domain": ["dextrorphan-total", "dextrorphan", "dextromethorphan"], "range": ["rgba(184,134,59,0.8)", "rgba(240,56,60,0.6)", "rgba(26,82,133,0.5)"]}, "legend": {"title": null, "orient": "none", "legendX": 135, "legendY": 165}},
            "shape": {"field": "analyte", "type": "nominal", "scale": {"domain": ["dextrorphan-total", "dextrorphan", "dextromethorphan"], "range": ["M-1.09,-0.63L1.09,-0.63L0,1.26Z", "circle", "M-1.4,0L0,-1.4L1.4,0L0,1.4Z"]}, "legend": {"title": null, "orient": "none", "legendX": 135, "legendY": 165}}
          }
        },
        {
          "data": {"name": "ref"},
          "transform": [{"filter": "datum.ref === 'up2' || datum.ref === 'lo2'"}],
          "mark": {"type": "line", "color": "#808080", "strokeWidth": 1.5, "clip": true},
          "encoding": {
            "x": {"field": "x", "type": "quantitative", "scale": {"type": "log", "domain": [0.00457, 1479], "nice": false}, "axis": null},
            "y": {"field": "y", "type": "quantitative", "scale": {"type": "log", "domain": [0.00457, 1479], "nice": false}, "axis": null},
            "detail": {"field": "ref"}
          }
        },
        {
          "data": {"name": "ref"},
          "transform": [{"filter": "datum.ref === 'up125' || datum.ref === 'lo125'"}],
          "mark": {"type": "line", "color": "#a0a0a0", "strokeWidth": 1.5, "strokeDash": [5, 3], "clip": true},
          "encoding": {
            "x": {"field": "x", "type": "quantitative", "scale": {"type": "log", "domain": [0.00457, 1479], "nice": false}, "axis": {"orient": "top", "title": "(b)", "titleFontWeight": "bold", "titleFontSize": 16.5, "labels": false, "ticks": false, "domain": false, "titleX": 0, "titleY": -10.5, "titleAlign": "left", "titleBaseline": "alphabetic"}},
            "y": {"field": "y", "type": "quantitative", "scale": {"type": "log", "domain": [0.00457, 1479], "nice": false}, "axis": null},
            "detail": {"field": "ref"}
          }
        },
        {
          "data": {"name": "ref"},
          "transform": [{"filter": "datum.ref === 'id'"}],
          "mark": {"type": "line", "color": "black", "strokeWidth": 1.5, "clip": true},
          "encoding": {
            "x": {"field": "x", "type": "quantitative", "scale": {"type": "log", "domain": [0.00457, 1479], "nice": false}, "axis": {"orient": "top", "title": "Plasma concentrations (test)", "titleFontSize": 16.5, "labels": false, "ticks": false, "domain": false, "titleX": 29, "titleY": -10.5, "titleAlign": "left", "titleBaseline": "alphabetic"}},
            "y": {"field": "y", "type": "quantitative", "scale": {"type": "log", "domain": [0.00457, 1479], "nice": false}, "axis": null}
          }
        }
      ]
    },
    {
      "width": 269, "height": 223,
      "resolve": {"axis": {"x": "independent", "y": "independent"}},
      "layer": [
        {
          "data": {"name": "c"},
          "mark": {"type": "point", "filled": true, "strokeWidth": 0, "size": 121, "opacity": 1},
          "encoding": {
            "x": {"field": "obs", "type": "quantitative", "scale": {"type": "log", "domain": [0.63, 9330], "nice": false},
              "axis": {"orient": "bottom", "title": "Observed AUCₗₐₛₜ [ng·h/mL]", "values": [0.7,0.8,0.9,1,2,3,4,5,6,7,8,9,10,20,30,40,50,60,70,80,90,100,200,300,400,500,600,700,800,900,1000,2000,3000,4000,5000,6000,7000,8000,9000], "labelExpr": "abs(log(datum.value)/LN10-round(log(datum.value)/LN10))>0.01 ? '' : '10'+(round(log(datum.value)/LN10)<0 ? '⁻' : '')+['⁰','¹','²','³','⁴'][abs(round(log(datum.value)/LN10))]", "tickSize": {"condition": {"test": "abs(log(datum.value)/LN10-round(log(datum.value)/LN10))>0.01", "value": 2}, "value": 3.5}}},
            "y": {"field": "pred", "type": "quantitative", "scale": {"type": "log", "domain": [0.63, 9330], "nice": false},
              "axis": {"orient": "left", "title": "Predicted AUCₗₐₛₜ [ng·h/mL]", "values": [0.7,0.8,0.9,1,2,3,4,5,6,7,8,9,10,20,30,40,50,60,70,80,90,100,200,300,400,500,600,700,800,900,1000,2000,3000,4000,5000,6000,7000,8000,9000], "labelExpr": "abs(log(datum.value)/LN10-round(log(datum.value)/LN10))>0.01 ? '' : '10'+(round(log(datum.value)/LN10)<0 ? '⁻' : '')+['⁰','¹','²','³','⁴'][abs(round(log(datum.value)/LN10))]", "tickSize": {"condition": {"test": "abs(log(datum.value)/LN10-round(log(datum.value)/LN10))>0.01", "value": 2}, "value": 3.5}}},
            "color": {"field": "analyte", "type": "nominal", "scale": {"domain": ["dextrorphan-total", "dextrorphan O-glucuronide", "dextrorphan", "dextromethorphan"], "range": ["rgba(184,134,59,0.8)", "rgba(153,50,204,0.85)", "rgba(240,56,60,0.6)", "rgba(26,82,133,0.5)"]}, "legend": {"title": null, "orient": "none", "legendX": 15, "legendY": 9}},
            "shape": {"field": "analyte", "type": "nominal", "scale": {"domain": ["dextrorphan-total", "dextrorphan O-glucuronide", "dextrorphan", "dextromethorphan"], "range": ["M-1.09,-0.63L1.09,-0.63L0,1.26Z", "M-1.09,0.63L1.09,0.63L0,-1.26Z", "circle", "M-1.4,0L0,-1.4L1.4,0L0,1.4Z"]}, "legend": {"title": null, "orient": "none", "legendX": 15, "legendY": 9}}
          }
        },
        {
          "data": {"name": "ref"},
          "transform": [{"filter": "datum.ref === 'up2' || datum.ref === 'lo2'"}],
          "mark": {"type": "line", "color": "#808080", "strokeWidth": 1.5, "clip": true},
          "encoding": {
            "x": {"field": "x", "type": "quantitative", "scale": {"type": "log", "domain": [0.63, 9330], "nice": false}, "axis": null},
            "y": {"field": "y", "type": "quantitative", "scale": {"type": "log", "domain": [0.63, 9330], "nice": false}, "axis": null},
            "detail": {"field": "ref"}
          }
        },
        {
          "data": {"name": "ref"},
          "transform": [{"filter": "datum.ref === 'up125' || datum.ref === 'lo125'"}],
          "mark": {"type": "line", "color": "#a0a0a0", "strokeWidth": 1.5, "strokeDash": [5, 3], "clip": true},
          "encoding": {
            "x": {"field": "x", "type": "quantitative", "scale": {"type": "log", "domain": [0.63, 9330], "nice": false}, "axis": {"orient": "top", "title": "(c)", "titleFontWeight": "bold", "titleFontSize": 16.5, "labels": false, "ticks": false, "domain": false, "titleX": 49, "titleY": -12.5, "titleAlign": "left", "titleBaseline": "alphabetic"}},
            "y": {"field": "y", "type": "quantitative", "scale": {"type": "log", "domain": [0.63, 9330], "nice": false}, "axis": null},
            "detail": {"field": "ref"}
          }
        },
        {
          "data": {"name": "ref"},
          "transform": [{"filter": "datum.ref === 'id'"}],
          "mark": {"type": "line", "color": "black", "strokeWidth": 1.5, "clip": true},
          "encoding": {
            "x": {"field": "x", "type": "quantitative", "scale": {"type": "log", "domain": [0.63, 9330], "nice": false}, "axis": {"orient": "top", "title": "AUCₗₐₛₜ (training)", "titleFontSize": 16.5, "labels": false, "ticks": false, "domain": false, "titleX": 77, "titleY": -12.5, "titleAlign": "left", "titleBaseline": "alphabetic"}},
            "y": {"field": "y", "type": "quantitative", "scale": {"type": "log", "domain": [0.63, 9330], "nice": false}, "axis": null}
          }
        }
      ]
    },
    {
      "width": 269, "height": 223,
      "resolve": {"axis": {"x": "independent", "y": "independent"}},
      "layer": [
        {
          "data": {"name": "d"},
          "mark": {"type": "point", "filled": true, "strokeWidth": 0, "size": 121, "opacity": 1},
          "encoding": {
            "x": {"field": "obs", "type": "quantitative", "scale": {"type": "log", "domain": [0.63, 9330], "nice": false},
              "axis": {"orient": "bottom", "title": "Observed AUCₗₐₛₜ [ng·h/mL]", "values": [0.7,0.8,0.9,1,2,3,4,5,6,7,8,9,10,20,30,40,50,60,70,80,90,100,200,300,400,500,600,700,800,900,1000,2000,3000,4000,5000,6000,7000,8000,9000], "labelExpr": "abs(log(datum.value)/LN10-round(log(datum.value)/LN10))>0.01 ? '' : '10'+(round(log(datum.value)/LN10)<0 ? '⁻' : '')+['⁰','¹','²','³','⁴'][abs(round(log(datum.value)/LN10))]", "tickSize": {"condition": {"test": "abs(log(datum.value)/LN10-round(log(datum.value)/LN10))>0.01", "value": 2}, "value": 3.5}}},
            "y": {"field": "pred", "type": "quantitative", "scale": {"type": "log", "domain": [0.63, 9330], "nice": false},
              "axis": {"orient": "left", "title": "Predicted AUCₗₐₛₜ [ng·h/mL]", "values": [0.7,0.8,0.9,1,2,3,4,5,6,7,8,9,10,20,30,40,50,60,70,80,90,100,200,300,400,500,600,700,800,900,1000,2000,3000,4000,5000,6000,7000,8000,9000], "labelExpr": "abs(log(datum.value)/LN10-round(log(datum.value)/LN10))>0.01 ? '' : '10'+(round(log(datum.value)/LN10)<0 ? '⁻' : '')+['⁰','¹','²','³','⁴'][abs(round(log(datum.value)/LN10))]", "tickSize": {"condition": {"test": "abs(log(datum.value)/LN10-round(log(datum.value)/LN10))>0.01", "value": 2}, "value": 3.5}}},
            "color": {"field": "analyte", "type": "nominal", "scale": {"domain": ["dextrorphan-total", "dextrorphan", "dextromethorphan"], "range": ["rgba(184,134,59,0.8)", "rgba(240,56,60,0.6)", "rgba(26,82,133,0.5)"]}, "legend": {"title": null, "orient": "none", "legendX": 128, "legendY": 165}},
            "shape": {"field": "analyte", "type": "nominal", "scale": {"domain": ["dextrorphan-total", "dextrorphan", "dextromethorphan"], "range": ["M-1.09,-0.63L1.09,-0.63L0,1.26Z", "circle", "M-1.4,0L0,-1.4L1.4,0L0,1.4Z"]}, "legend": {"title": null, "orient": "none", "legendX": 128, "legendY": 165}}
          }
        },
        {
          "data": {"name": "ref"},
          "transform": [{"filter": "datum.ref === 'up2' || datum.ref === 'lo2'"}],
          "mark": {"type": "line", "color": "#808080", "strokeWidth": 1.5, "clip": true},
          "encoding": {
            "x": {"field": "x", "type": "quantitative", "scale": {"type": "log", "domain": [0.63, 9330], "nice": false}, "axis": null},
            "y": {"field": "y", "type": "quantitative", "scale": {"type": "log", "domain": [0.63, 9330], "nice": false}, "axis": null},
            "detail": {"field": "ref"}
          }
        },
        {
          "data": {"name": "ref"},
          "transform": [{"filter": "datum.ref === 'up125' || datum.ref === 'lo125'"}],
          "mark": {"type": "line", "color": "#a0a0a0", "strokeWidth": 1.5, "strokeDash": [5, 3], "clip": true},
          "encoding": {
            "x": {"field": "x", "type": "quantitative", "scale": {"type": "log", "domain": [0.63, 9330], "nice": false}, "axis": {"orient": "top", "title": "(d)", "titleFontWeight": "bold", "titleFontSize": 16.5, "labels": false, "ticks": false, "domain": false, "titleX": 63, "titleY": -12.5, "titleAlign": "left", "titleBaseline": "alphabetic"}},
            "y": {"field": "y", "type": "quantitative", "scale": {"type": "log", "domain": [0.63, 9330], "nice": false}, "axis": null},
            "detail": {"field": "ref"}
          }
        },
        {
          "data": {"name": "ref"},
          "transform": [{"filter": "datum.ref === 'id'"}],
          "mark": {"type": "line", "color": "black", "strokeWidth": 1.5, "clip": true},
          "encoding": {
            "x": {"field": "x", "type": "quantitative", "scale": {"type": "log", "domain": [0.63, 9330], "nice": false}, "axis": {"orient": "top", "title": "AUCₗₐₛₜ (test)", "titleFontSize": 16.5, "labels": false, "ticks": false, "domain": false, "titleX": 94, "titleY": -12.5, "titleAlign": "left", "titleBaseline": "alphabetic"}},
            "y": {"field": "y", "type": "quantitative", "scale": {"type": "log", "domain": [0.63, 9330], "nice": false}, "axis": null}
          }
        }
      ]
    },
    {
      "width": 269, "height": 223,
      "resolve": {"axis": {"x": "independent", "y": "independent"}},
      "layer": [
        {
          "data": {"name": "e"},
          "mark": {"type": "point", "filled": true, "strokeWidth": 0, "size": 121, "opacity": 1},
          "encoding": {
            "x": {"field": "obs", "type": "quantitative", "scale": {"type": "log", "domain": [0.155, 1410], "nice": false},
              "axis": {"orient": "bottom", "title": "Observed Cₘₐₓ [ng/mL]", "values": [0.2,0.3,0.4,0.5,0.6,0.7,0.8,0.9,1,2,3,4,5,6,7,8,9,10,20,30,40,50,60,70,80,90,100,200,300,400,500,600,700,800,900,1000], "labelExpr": "abs(log(datum.value)/LN10-round(log(datum.value)/LN10))>0.01 ? '' : '10'+(round(log(datum.value)/LN10)<0 ? '⁻' : '')+['⁰','¹','²','³','⁴'][abs(round(log(datum.value)/LN10))]", "tickSize": {"condition": {"test": "abs(log(datum.value)/LN10-round(log(datum.value)/LN10))>0.01", "value": 2}, "value": 3.5}}},
            "y": {"field": "pred", "type": "quantitative", "scale": {"type": "log", "domain": [0.155, 1410], "nice": false},
              "axis": {"orient": "left", "title": "Predicted Cₘₐₓ [ng/mL]", "values": [0.2,0.3,0.4,0.5,0.6,0.7,0.8,0.9,1,2,3,4,5,6,7,8,9,10,20,30,40,50,60,70,80,90,100,200,300,400,500,600,700,800,900,1000], "labelExpr": "abs(log(datum.value)/LN10-round(log(datum.value)/LN10))>0.01 ? '' : '10'+(round(log(datum.value)/LN10)<0 ? '⁻' : '')+['⁰','¹','²','³','⁴'][abs(round(log(datum.value)/LN10))]", "tickSize": {"condition": {"test": "abs(log(datum.value)/LN10-round(log(datum.value)/LN10))>0.01", "value": 2}, "value": 3.5}}},
            "color": {"field": "analyte", "type": "nominal", "scale": {"domain": ["dextrorphan-total", "dextrorphan O-glucuronide", "dextrorphan", "dextromethorphan"], "range": ["rgba(184,134,59,0.8)", "rgba(153,50,204,0.85)", "rgba(240,56,60,0.6)", "rgba(26,82,133,0.5)"]}, "legend": {"title": null, "orient": "none", "legendX": 15, "legendY": 9}},
            "shape": {"field": "analyte", "type": "nominal", "scale": {"domain": ["dextrorphan-total", "dextrorphan O-glucuronide", "dextrorphan", "dextromethorphan"], "range": ["M-1.09,-0.63L1.09,-0.63L0,1.26Z", "M-1.09,0.63L1.09,0.63L0,-1.26Z", "circle", "M-1.4,0L0,-1.4L1.4,0L0,1.4Z"]}, "legend": {"title": null, "orient": "none", "legendX": 15, "legendY": 9}}
          }
        },
        {
          "data": {"name": "ref"},
          "transform": [{"filter": "datum.ref === 'up2' || datum.ref === 'lo2'"}],
          "mark": {"type": "line", "color": "#808080", "strokeWidth": 1.5, "clip": true},
          "encoding": {
            "x": {"field": "x", "type": "quantitative", "scale": {"type": "log", "domain": [0.155, 1410], "nice": false}, "axis": null},
            "y": {"field": "y", "type": "quantitative", "scale": {"type": "log", "domain": [0.155, 1410], "nice": false}, "axis": null},
            "detail": {"field": "ref"}
          }
        },
        {
          "data": {"name": "ref"},
          "transform": [{"filter": "datum.ref === 'up125' || datum.ref === 'lo125'"}],
          "mark": {"type": "line", "color": "#a0a0a0", "strokeWidth": 1.5, "strokeDash": [5, 3], "clip": true},
          "encoding": {
            "x": {"field": "x", "type": "quantitative", "scale": {"type": "log", "domain": [0.155, 1410], "nice": false}, "axis": {"orient": "top", "title": "(e)", "titleFontWeight": "bold", "titleFontSize": 16.5, "labels": false, "ticks": false, "domain": false, "titleX": 58, "titleY": -12.5, "titleAlign": "left", "titleBaseline": "alphabetic"}},
            "y": {"field": "y", "type": "quantitative", "scale": {"type": "log", "domain": [0.155, 1410], "nice": false}, "axis": null},
            "detail": {"field": "ref"}
          }
        },
        {
          "data": {"name": "ref"},
          "transform": [{"filter": "datum.ref === 'id'"}],
          "mark": {"type": "line", "color": "black", "strokeWidth": 1.5, "clip": true},
          "encoding": {
            "x": {"field": "x", "type": "quantitative", "scale": {"type": "log", "domain": [0.155, 1410], "nice": false}, "axis": {"orient": "top", "title": "Cₘₐₓ (training)", "titleFontSize": 16.5, "labels": false, "ticks": false, "domain": false, "titleX": 88, "titleY": -12.5, "titleAlign": "left", "titleBaseline": "alphabetic"}},
            "y": {"field": "y", "type": "quantitative", "scale": {"type": "log", "domain": [0.155, 1410], "nice": false}, "axis": null}
          }
        }
      ]
    },
    {
      "width": 269, "height": 223,
      "resolve": {"axis": {"x": "independent", "y": "independent"}},
      "layer": [
        {
          "data": {"name": "f"},
          "mark": {"type": "point", "filled": true, "strokeWidth": 0, "size": 121, "opacity": 1},
          "encoding": {
            "x": {"field": "obs", "type": "quantitative", "scale": {"type": "log", "domain": [0.166, 1380], "nice": false},
              "axis": {"orient": "bottom", "title": "Observed Cₘₐₓ [ng/mL]", "values": [0.2,0.3,0.4,0.5,0.6,0.7,0.8,0.9,1,2,3,4,5,6,7,8,9,10,20,30,40,50,60,70,80,90,100,200,300,400,500,600,700,800,900,1000], "labelExpr": "abs(log(datum.value)/LN10-round(log(datum.value)/LN10))>0.01 ? '' : '10'+(round(log(datum.value)/LN10)<0 ? '⁻' : '')+['⁰','¹','²','³','⁴'][abs(round(log(datum.value)/LN10))]", "tickSize": {"condition": {"test": "abs(log(datum.value)/LN10-round(log(datum.value)/LN10))>0.01", "value": 2}, "value": 3.5}}},
            "y": {"field": "pred", "type": "quantitative", "scale": {"type": "log", "domain": [0.166, 1380], "nice": false},
              "axis": {"orient": "left", "title": "Predicted Cₘₐₓ [ng/mL]", "values": [0.2,0.3,0.4,0.5,0.6,0.7,0.8,0.9,1,2,3,4,5,6,7,8,9,10,20,30,40,50,60,70,80,90,100,200,300,400,500,600,700,800,900,1000], "labelExpr": "abs(log(datum.value)/LN10-round(log(datum.value)/LN10))>0.01 ? '' : '10'+(round(log(datum.value)/LN10)<0 ? '⁻' : '')+['⁰','¹','²','³','⁴'][abs(round(log(datum.value)/LN10))]", "tickSize": {"condition": {"test": "abs(log(datum.value)/LN10-round(log(datum.value)/LN10))>0.01", "value": 2}, "value": 3.5}}},
            "color": {"field": "analyte", "type": "nominal", "scale": {"domain": ["dextrorphan-total", "dextrorphan", "dextromethorphan"], "range": ["rgba(184,134,59,0.8)", "rgba(240,56,60,0.6)", "rgba(26,82,133,0.5)"]}, "legend": {"title": null, "orient": "none", "legendX": 128, "legendY": 165}},
            "shape": {"field": "analyte", "type": "nominal", "scale": {"domain": ["dextrorphan-total", "dextrorphan", "dextromethorphan"], "range": ["M-1.09,-0.63L1.09,-0.63L0,1.26Z", "circle", "M-1.4,0L0,-1.4L1.4,0L0,1.4Z"]}, "legend": {"title": null, "orient": "none", "legendX": 128, "legendY": 165}}
          }
        },
        {
          "data": {"name": "ref"},
          "transform": [{"filter": "datum.ref === 'up2' || datum.ref === 'lo2'"}],
          "mark": {"type": "line", "color": "#808080", "strokeWidth": 1.5, "clip": true},
          "encoding": {
            "x": {"field": "x", "type": "quantitative", "scale": {"type": "log", "domain": [0.166, 1380], "nice": false}, "axis": null},
            "y": {"field": "y", "type": "quantitative", "scale": {"type": "log", "domain": [0.166, 1380], "nice": false}, "axis": null},
            "detail": {"field": "ref"}
          }
        },
        {
          "data": {"name": "ref"},
          "transform": [{"filter": "datum.ref === 'up125' || datum.ref === 'lo125'"}],
          "mark": {"type": "line", "color": "#a0a0a0", "strokeWidth": 1.5, "strokeDash": [5, 3], "clip": true},
          "encoding": {
            "x": {"field": "x", "type": "quantitative", "scale": {"type": "log", "domain": [0.166, 1380], "nice": false}, "axis": {"orient": "top", "title": "(f)", "titleFontWeight": "bold", "titleFontSize": 16.5, "labels": false, "ticks": false, "domain": false, "titleX": 77, "titleY": -11.5, "titleAlign": "left", "titleBaseline": "alphabetic"}},
            "y": {"field": "y", "type": "quantitative", "scale": {"type": "log", "domain": [0.166, 1380], "nice": false}, "axis": null},
            "detail": {"field": "ref"}
          }
        },
        {
          "data": {"name": "ref"},
          "transform": [{"filter": "datum.ref === 'id'"}],
          "mark": {"type": "line", "color": "black", "strokeWidth": 1.5, "clip": true},
          "encoding": {
            "x": {"field": "x", "type": "quantitative", "scale": {"type": "log", "domain": [0.166, 1380], "nice": false}, "axis": {"orient": "top", "title": "Cₘₐₓ (test)", "titleFontSize": 16.5, "labels": false, "ticks": false, "domain": false, "titleX": 103, "titleY": -11.5, "titleAlign": "left", "titleBaseline": "alphabetic"}},
            "y": {"field": "y", "type": "quantitative", "scale": {"type": "log", "domain": [0.166, 1380], "nice": false}, "axis": null}
          }
        }
      ]
    }
  ]
}
